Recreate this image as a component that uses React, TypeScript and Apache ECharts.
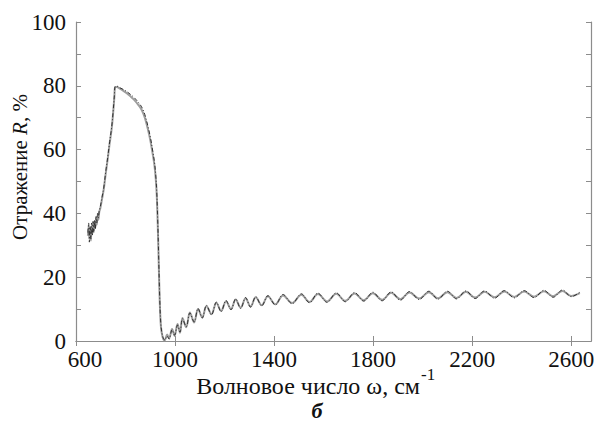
import React, { useEffect, useRef } from "react";
import * as echarts from "echarts";

const wavenumbers = [
  648, 651, 654, 657, 660, 663, 666, 669, 672, 675, 678, 681, 684, 687, 690, 694, 698, 705, 712, 720,
  728, 736, 744, 750, 755, 758, 765, 777, 790, 805, 820, 835, 850, 865, 878, 890, 900, 910, 917, 922,
  926, 930, 934, 938, 943, 950, 958, 968, 976, 988, 998, 1010, 1020, 1030, 1045, 1060, 1077, 1093, 1110, 1127,
  1147, 1167, 1186, 1206, 1226, 1245, 1265, 1285, 1305, 1326, 1350, 1375, 1405, 1436, 1473, 1510, 1543, 1577, 1614, 1651,
  1688, 1725, 1762, 1799, 1836, 1873, 1910, 1947, 1986, 2025, 2062, 2100, 2137, 2175, 2212, 2250, 2290, 2330, 2370, 2410,
  2450, 2490, 2527, 2565, 2600, 2635,
];

const calcR = [
  34, 37, 31, 36, 32, 37, 33, 37.5, 34, 38, 35, 39, 37, 40, 38.5, 41, 42, 45, 48, 53,
  57.5, 62.5, 67, 72, 77, 79.8, 79.9, 79.4, 78.9, 78.2, 77.3, 76.3, 75, 73.4, 71, 67.5, 64, 59.5, 56, 52,
  47, 38, 26, 14, 5, 1.5, 0.3, 1.5, 0.6, 3.5, 1.8, 5, 2.8, 7, 4.5, 8.8, 6, 10.2, 7.2, 11.2,
  8.2, 12.2, 9.2, 12.7, 9.8, 13.2, 10.2, 13.6, 10.6, 13.9, 11, 14.2, 11.3, 14.6, 11.7, 14.8, 12, 15, 12.1, 15.1,
  12.3, 15.2, 12.5, 15.3, 12.6, 15.4, 12.8, 15.5, 13, 15.6, 13.1, 15.6, 13.2, 15.7, 13.3, 15.7, 13.4, 15.8, 13.5, 15.8,
  13.6, 15.9, 13.7, 16, 13.9, 15.3,
];

const expR = [
  33, 36, 32, 35.5, 31.5, 36, 33.5, 37, 34.5, 37.5, 35.5, 38.5, 36.5, 39.5, 38, 40.5, 41.5, 44.5, 47.5, 52.5,
  57, 62, 66.5, 71.5, 76.5, 79.5, 79.6, 79.1, 78.5, 77.7, 76.7, 75.6, 74.2, 72.5, 70, 66.5, 63, 58.5, 55, 51,
  46, 37, 25, 13, 4.5, 1.2, 0.2, 2, 0.8, 3.8, 1.6, 5.3, 2.6, 7.2, 4.3, 8.9, 5.8, 10, 7.4, 11, 8.4,
  12, 9.4, 12.5, 10, 13, 10.4, 13.4, 10.8, 13.7, 11.2, 14, 11.5, 14.3, 11.9, 14.5, 12.2, 14.7, 12.4, 14.8,
  12.6, 14.9, 12.8, 15, 12.9, 15.1, 13.1, 15.2, 13.3, 15.3, 13.4, 15.3, 13.5, 15.4, 13.6, 15.4, 13.7, 15.5, 13.8, 15.5,
  13.9, 15.6, 14, 15.7, 14.1, 15,
];

const xTicks = [600, 1000, 1400, 1800, 2200, 2600];
const xMin = 600;
const xMax = 2680;
const yMin = 0;
const yMax = 100;

const FONT = "Liberation Serif";
const AXIS_COLOR = "#8c8c8c";

export default function App() {
  const ref = useRef<HTMLDivElement>(null);

  useEffect(() => {
    if (!ref.current) return;
    const chart = echarts.init(ref.current, undefined, { renderer: "svg" });

    const calcData = wavenumbers.map((w, i) => [w, calcR[i]]);
    const expData = wavenumbers.map((w, i) => [w, expR[i]]);

    const axisLineStyle = { show: true, lineStyle: { color: AXIS_COLOR, width: 1.2 } };

    chart.setOption({
      animation: false,
      backgroundColor: "#ffffff",
      grid: { left: 76, right: 7, top: 22, bottom: 84, containLabel: false },
      xAxis: [
        {
          type: "value",
          min: xMin,
          max: xMax,
          position: "bottom",
          axisLine: axisLineStyle,
          axisTick: { show: true, inside: true, length: 5, lineStyle: { color: AXIS_COLOR }, customValues: xTicks },
          axisLabel: {
            show: true,
            customValues: xTicks,
            formatter: (v: number) => (v === xMin ? "{first|" + v + "}" : String(v)),
            margin: 9,
            lineHeight: 18,
            color: "#111",
            fontFamily: FONT,
            fontSize: 23,
            rich: {
              first: { padding: [0, 0, 0, 18], fontFamily: FONT, fontSize: 23, color: "#111", lineHeight: 18 },
            },
          },
          splitLine: { show: false },
        },
        {
          type: "value",
          min: xMin,
          max: xMax,
          position: "top",
          axisLine: axisLineStyle,
          axisTick: { show: true, inside: true, length: 5, lineStyle: { color: AXIS_COLOR }, customValues: xTicks },
          axisLabel: { show: false },
          splitLine: { show: false },
        },
      ],
      yAxis: [
        {
          type: "value",
          min: yMin,
          max: yMax,
          interval: 20,
          position: "left",
          axisLine: axisLineStyle,
          axisTick: { show: true, inside: true, length: 5, lineStyle: { color: AXIS_COLOR } },
          minorTick: { show: true, splitNumber: 2, length: 5, lineStyle: { color: AXIS_COLOR } },
          axisLabel: {
            show: true,
            margin: 10,
            lineHeight: 16,
            color: "#111",
            fontFamily: FONT,
            fontSize: 23,
            formatter: (v: number) => String(v),
          },
          splitLine: { show: false },
          minorSplitLine: { show: false },
        },
        {
          type: "value",
          min: yMin,
          max: yMax,
          interval: 20,
          position: "right",
          axisLine: axisLineStyle,
          axisTick: { show: true, inside: true, length: 5, lineStyle: { color: AXIS_COLOR } },
          minorTick: { show: true, splitNumber: 2, length: 5, lineStyle: { color: AXIS_COLOR } },
          axisLabel: { show: false },
          splitLine: { show: false },
          minorSplitLine: { show: false },
        },
      ],
      series: [
        {
          name: "experiment",
          type: "line",
          data: expData,
          symbol: "none",
          smooth: 0.35,
          lineStyle: { color: "#9e9e9e", width: 2, type: "solid" },
          z: 2,
        },
        {
          name: "calculation",
          type: "line",
          data: calcData,
          symbol: "none",
          smooth: 0.35,
          lineStyle: { color: "#222", width: 0.9, type: [4, 2, 1, 2] },
          z: 3,
        },
      ],
      graphic: [
        {
          type: "text",
          x: 20,
          y: 167,
          rotation: Math.PI / 2,
          style: {
            text: "{n|Отражение }{i|R}{n|, %}",
            align: "center",
            verticalAlign: "middle",
            fill: "#111",
            rich: {
              n: { fontFamily: FONT, fontSize: 21, fill: "#111" },
              i: { fontFamily: FONT, fontSize: 21, fontStyle: "italic", fill: "#111" },
            },
          },
        },
        {
          type: "text",
          x: 420,
          y: 386,
          style: {
            text: "Волновое число ω, см",
            align: "right",
            verticalAlign: "middle",
            fontFamily: FONT,
            fontSize: 24,
            fill: "#111",
          },
        },
        {
          type: "text",
          x: 421,
          y: 374,
          style: {
            text: "-1",
            align: "left",
            verticalAlign: "middle",
            fontFamily: FONT,
            fontSize: 17,
            fill: "#111",
          },
        },
        {
          type: "text",
          x: 317,
          y: 410,
          style: {
            text: "б",
            align: "center",
            verticalAlign: "middle",
            fontFamily: FONT,
            fontSize: 22,
            fontWeight: "bold",
            fontStyle: "italic",
            fill: "#111",
          },
        },
      ],
    });

    return () => chart.dispose();
  }, []);

  return (
    <div
      ref={ref}
      style={{ position: "absolute", left: 0, top: 0, width: 598, height: 425, background: "#fff" }}
    />
  );
}
